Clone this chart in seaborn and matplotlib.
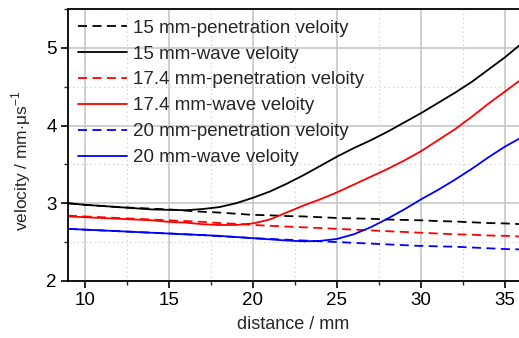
import numpy as np
import pandas as pd
import seaborn as sns
import matplotlib.pyplot as plt
from matplotlib.ticker import MultipleLocator

# distance / mm
distance = list(range(9, 37))

pen_15 = [3.00, 2.98, 2.965, 2.95, 2.94, 2.93, 2.92, 2.905, 2.89, 2.88, 2.865, 2.85, 2.845, 2.835,
          2.83, 2.82, 2.81, 2.805, 2.80, 2.79, 2.785, 2.78, 2.77, 2.765, 2.755, 2.745, 2.74, 2.73]
wave_15 = [3.00, 2.98, 2.965, 2.95, 2.935, 2.92, 2.915, 2.91, 2.925, 2.95, 3.00, 3.07, 3.15, 3.25,
           3.36, 3.48, 3.60, 3.71, 3.81, 3.92, 4.04, 4.16, 4.29, 4.42, 4.56, 4.72, 4.88, 5.06]
pen_174 = [2.84, 2.83, 2.82, 2.81, 2.80, 2.79, 2.78, 2.77, 2.76, 2.745, 2.735, 2.72, 2.71, 2.70,
           2.69, 2.68, 2.67, 2.66, 2.65, 2.64, 2.63, 2.62, 2.61, 2.60, 2.595, 2.585, 2.58, 2.57]
wave_174 = [2.83, 2.82, 2.81, 2.80, 2.79, 2.78, 2.76, 2.75, 2.73, 2.72, 2.72, 2.74, 2.79, 2.88,
            2.97, 3.05, 3.14, 3.24, 3.34, 3.44, 3.55, 3.67, 3.81, 3.95, 4.11, 4.28, 4.44, 4.60]
pen_20 = [2.67, 2.66, 2.65, 2.64, 2.63, 2.62, 2.61, 2.60, 2.59, 2.575, 2.565, 2.55, 2.54, 2.53,
          2.52, 2.51, 2.50, 2.49, 2.48, 2.47, 2.46, 2.45, 2.445, 2.44, 2.43, 2.42, 2.41, 2.405]
wave_20 = [2.67, 2.66, 2.65, 2.64, 2.63, 2.62, 2.61, 2.60, 2.59, 2.58, 2.565, 2.55, 2.535, 2.52,
           2.51, 2.515, 2.54, 2.60, 2.69, 2.80, 2.92, 3.05, 3.17, 3.30, 3.44, 3.59, 3.73, 3.85]

labels = ['15 mm-penetration veloity', '15 mm-wave veloity',
          '17.4 mm-penetration veloity', '17.4 mm-wave veloity',
          '20 mm-penetration veloity', '20 mm-wave veloity']
series = [pen_15, wave_15, pen_174, wave_174, pen_20, wave_20]
colors = ['black', 'black', 'red', 'red', 'blue', 'blue']
dashed = [True, False, True, False, True, False]

sns.set_style('ticks')
plt.rcParams['font.family'] = ['Liberation Sans', 'DejaVu Sans']
plt.rcParams['mathtext.fontset'] = 'custom'
plt.rcParams['mathtext.rm'] = 'Liberation Sans'

fig = plt.figure(figsize=(5.19, 3.38), dpi=100)
ax = fig.add_axes([0.131, 0.169, 0.869, 0.804])

for vals, lab, c, d in zip(series, labels, colors, dashed):
    df = pd.DataFrame({'distance': distance, 'velocity': vals})
    sns.lineplot(data=df, x='distance', y='velocity', ax=ax, color=c,
                 linestyle=(0, (5, 3)) if d else '-', linewidth=1.3, label=lab)

ax.set_xlim(9, 35.83)
ax.set_ylim(2, 5.5)
ax.xaxis.set_major_locator(MultipleLocator(5))
ax.xaxis.set_minor_locator(MultipleLocator(2.5))
ax.yaxis.set_major_locator(MultipleLocator(1))
ax.yaxis.set_minor_locator(MultipleLocator(0.5))
ax.grid(which='major', color='#c8c8c8', linewidth=1.2, linestyle='-')
ax.grid(which='minor', color='#c8c8c8', linewidth=0.8, linestyle=(0, (1, 3)))
ax.set_axisbelow(True)

ax.tick_params(which='major', direction='out', length=5, width=1.2, labelsize=13.5,
               colors='black', pad=3)
ax.tick_params(which='minor', direction='out', length=3, width=1.0)
ax.spines['right'].set_visible(False)
for s in ['left', 'bottom', 'top']:
    ax.spines[s].set_linewidth(1.3)
    ax.spines[s].set_color('black')

ax.set_xlabel('distance / mm', fontsize=13, labelpad=5)
ax.set_ylabel(r'velocity / mm$\cdot$μs$^{\mathregular{-1}}$', fontsize=12.5)
ax.yaxis.set_label_coords(-0.078, 0.44)

ax.legend(loc='upper left', frameon=False, fontsize=13.5, handlelength=2.6,
          labelspacing=0.47, handletextpad=0.3, borderaxespad=0.2, borderpad=0.35)

fig.savefig('out.png', dpi=100)
